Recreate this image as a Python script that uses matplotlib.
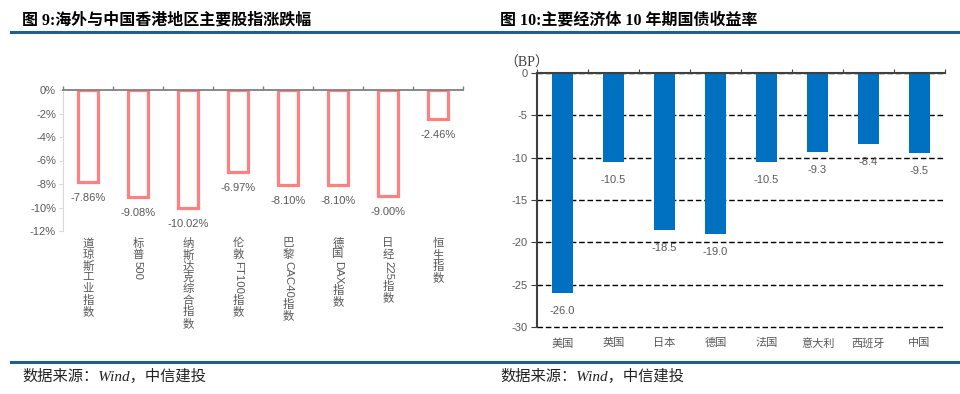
import numpy as np
import matplotlib
matplotlib.use("Agg")
import matplotlib.pyplot as plt
from matplotlib.lines import Line2D

plt.rcParams['font.family'] = ['Liberation Sans', 'Noto Sans CJK SC', 'DejaVu Sans']
plt.rcParams['axes.unicode_minus'] = False

# ---- data ----
idx_names = ['道琼斯工业指数', '标普500', '纳斯达克综合指数', '伦敦FT100指数',
             '巴黎CAC40指数', '德国DAX指数', '日经225指数', '恒生指数']
idx_chg = [-7.86, -9.08, -10.02, -6.97, -8.10, -8.10, -9.00, -2.46]

bond_names = ['美国', '英国', '日本', '德国', '法国', '意大利', '西班牙', '中国']
bond_chg = [-26.0, -10.5, -18.5, -19.0, -10.5, -9.3, -8.4, -9.5]

title_left = '图 9:海外与中国香港地区主要股指涨跌幅'
title_right = '图 10:主要经济体 10 年期国债收益率'
source_txt = '数据来源：Wind，中信建投'

GRAY = '#595959'
PINK = '#FF8080'
BLUE = '#0070C0'
LINE_BLUE = '#1F5F8F'

DPI = 100
fig = plt.figure(figsize=(9.6, 3.94), dpi=DPI)
renderer = fig.canvas.get_renderer()

# ---- header / footer decoration ----
tfont = dict(family=['Liberation Serif', 'Noto Sans CJK SC'], weight='bold', size=11.5)
fig.text(22 / 960, 0.949, title_left, ha='left', va='center', **tfont)
fig.text(500 / 960, 0.949, title_right, ha='left', va='center', **tfont)
fig.add_artist(Line2D([11 / 960, 1.0], [0.919, 0.919], color=LINE_BLUE, lw=2.2))
fig.add_artist(Line2D([11 / 960, 1.0], [0.081, 0.081], color=LINE_BLUE, lw=2.2))
sfont = dict(family=['Liberation Serif', 'Noto Sans CJK SC'], style='italic', size=11)
fig.text(22 / 960, 0.045, source_txt, ha='left', va='center', color='#222222', **sfont)
fig.text(500 / 960, 0.045, source_txt, ha='left', va='center', color='#222222', **sfont)


def vertical_label(ax, x, label, top_px, size=8):
    # CJK characters stacked upright, latin runs rotated like Excel vertical text
    segs = []
    buf = ''
    for ch in label:
        if ord(ch) < 128:
            buf += ch
        else:
            if buf:
                segs.append(buf)
                buf = ''
            segs.append(ch)
    if buf:
        segs.append(buf)
    cursor = top_px
    em = size * DPI / 72
    for s in segs:
        if ord(s[0]) < 128:
            t = ax.annotate(s, xy=(x, 0), xycoords=('data', 'axes fraction'),
                            xytext=(0, -cursor), textcoords='offset pixels',
                            ha='center', va='top', rotation=-90,
                            fontsize=size, color=GRAY, annotation_clip=False)
            h = t.get_window_extent(renderer).height
            cursor += h + 1
        else:
            ax.annotate(s, xy=(x, 0), xycoords=('data', 'axes fraction'),
                        xytext=(0, -cursor), textcoords='offset pixels',
                        ha='center', va='top', fontsize=size, color=GRAY,
                        annotation_clip=False)
            cursor += em


# ---- left chart: index changes ----
ax1 = fig.add_axes([63 / 960, 1 - 231 / 394, 400 / 960, 141 / 394])
x1 = np.arange(len(idx_names))
ax1.bar(x1, idx_chg, width=0.4, facecolor='white', edgecolor=PINK, linewidth=2.3, zorder=2)
ax1.set_xlim(-0.5, len(idx_names) - 0.5)
ax1.set_ylim(-12, 0)
ax1.set_yticks(np.arange(-12, 1, 2))
ax1.set_yticklabels(['%d%%' % v for v in np.arange(-12, 1, 2)])
ax1.set_xticks(np.arange(len(idx_names) + 1) - 0.5)
ax1.tick_params(axis='x', top=True, bottom=False, labelbottom=False, labeltop=False,
                direction='out', length=3, color='#808080', width=1)
ax1.tick_params(axis='y', direction='out', length=3, color='#D9D9D9', labelcolor=GRAY,
                labelsize=8, pad=2)
for sp in ['right', 'bottom']:
    ax1.spines[sp].set_visible(False)
ax1.spines['left'].set_color('#D9D9D9')
ax1.spines['top'].set_color('#808080')
ax1.spines['top'].set_linewidth(1.3)
for xi, v in zip(x1, idx_chg):
    ax1.annotate('%.2f%%' % v, xy=(xi, v), xytext=(0, -16), textcoords='offset pixels',
                 ha='center', va='center', fontsize=8, color=GRAY)
for xi, name in zip(x1, idx_names):
    vertical_label(ax1, xi, name, 7, size=8.2)

# ---- right chart: 10y yields ----
ax2 = fig.add_axes([537 / 960, 1 - 327 / 394, 408 / 960, 254 / 394])
x2 = np.arange(len(bond_names))
ax2.bar(x2, bond_chg, width=0.4, color=BLUE, zorder=2)
ax2.set_xlim(-0.5, len(bond_names) - 0.5)
ax2.set_ylim(-30, 0)
ax2.set_yticks(np.arange(-30, 1, 5))
ax2.yaxis.grid(True, linestyle=(0, (4, 2)), color='black', linewidth=1)
for gl in ax2.get_ygridlines():
    gl.set_clip_on(False)
ax2.set_axisbelow(True)
ax2.set_xticks(np.arange(len(bond_names) + 1) - 0.5)
ax2.tick_params(axis='x', which='major', top=True, bottom=False, labelbottom=False,
                direction='out', length=3, color='#404040')
ax2.set_xticks(x2, minor=True)
ax2.set_xticklabels(bond_names, minor=True)
ax2.tick_params(axis='x', which='minor', bottom=True, top=False, length=0,
                labelsize=8, labelcolor=GRAY, pad=8)
ax2.tick_params(axis='y', direction='out', length=4, color='#404040', labelcolor=GRAY,
                labelsize=8, pad=3)
for sp in ['right', 'bottom']:
    ax2.spines[sp].set_visible(False)
ax2.spines['left'].set_color('#404040')
ax2.spines['left'].set_linewidth(1.5)
ax2.spines['top'].set_color('#404040')
ax2.spines['top'].set_linewidth(1.5)
for xi, v in zip(x2, bond_chg):
    ax2.annotate('%.1f' % v, xy=(xi, v), xytext=(0, -18), textcoords='offset pixels',
                 ha='center', va='center', fontsize=8, color=GRAY)
ax2.annotate('（BP）', xy=(0, 1), xycoords='axes fraction', xytext=(-10, 10),
             textcoords='offset pixels', ha='center', va='center', fontsize=10,
             family=['Liberation Serif', 'Noto Sans CJK SC'], color='#404040')

fig.savefig('out.png', dpi=DPI)
